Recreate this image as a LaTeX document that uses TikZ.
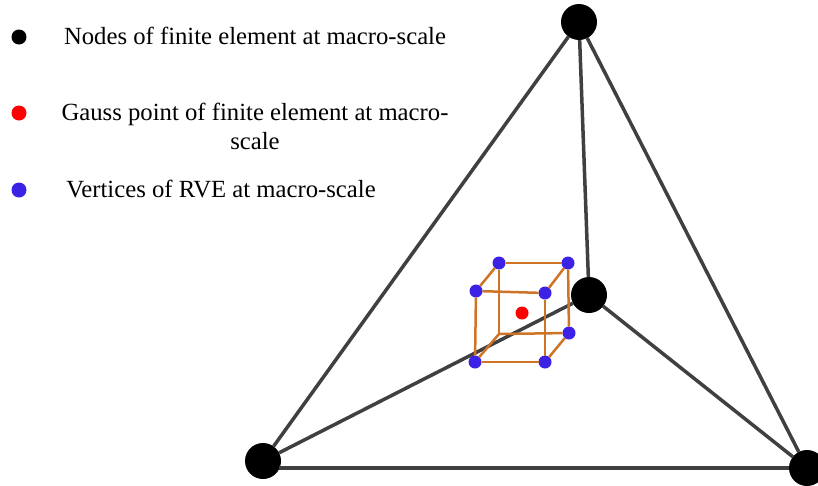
\documentclass[tikz,border=0pt]{standalone}
\usepackage{fontspec}
\setmainfont{Liberation Serif}
\usepackage{xcolor}
\definecolor{edgegray}{HTML}{404040}
\definecolor{rveorange}{HTML}{CF7426}
\definecolor{rveblue}{HTML}{3B22E4}
\tikzstyle{vertex}  = [circle, fill=black, minimum size=36pt, inner sep=0pt, outer sep=0pt]
\tikzstyle{rvevert} = [circle, fill=rveblue, minimum size=13pt, inner sep=0pt, outer sep=0pt]
\tikzstyle{gauss}   = [circle, fill=red, minimum size=13pt, inner sep=0pt, outer sep=0pt]
\tikzstyle{legdot}  = [circle, minimum size=15pt, inner sep=0pt, outer sep=0pt]
\tikzstyle{legtext} = [inner sep=0pt, align=center, font=\fontsize{24.7}{29}\selectfont]
\tikzstyle{edge}    = [line width=3.5pt, edgegray]
\tikzstyle{rve}     = [line width=2.5pt, rveorange]
\begin{document}
\begin{tikzpicture}[x=1pt,y=-1pt]
\useasboundingbox (0,0) rectangle (818,485);

\node[vertex] (V1) at (579,22) {};
\node[vertex] (V2) at (589,295) {};
\node[vertex] (V3) at (263,461) {};
\node[vertex] (V4) at (807,468) {};
\coordinate (VB) at (279,468);

\draw[edge] (V1) -- (V3);
\draw[edge] (VB) -- (V4);
\draw[edge] (V4) -- (V1);
\draw[edge] (V1) -- (V2);
\draw[edge] (V2) -- (V3);
\draw[edge] (V2) -- (V4);

\node[rvevert] (P1) at (499,263) {};
\node[rvevert] (P2) at (568,263) {};
\node[rvevert] (P3) at (476,291) {};
\node[rvevert] (P4) at (545,293) {};
\node[rvevert] (P5) at (569,333) {};
\node[rvevert] (P6) at (475,362) {};
\node[rvevert] (P7) at (545,362) {};
\coordinate (P8) at (499,334);
\node[gauss] (G1) at (522,313) {};

\draw[rve] (P1) -- (P2);
\draw[rve] (P3) -- (P4);
\draw[rve] (P6) -- (P7);
\draw[rve] (P8) -- (P5);
\draw[rve] (P3) -- (P6);
\draw[rve] (P4) -- (P7);
\draw[rve] (P1) -- (P8);
\draw[rve] (P2) -- (P5);
\draw[rve] (P1) -- (P3);
\draw[rve] (P2) -- (P4);
\draw[rve] (P8) -- (P6);
\draw[rve] (P5) -- (P7);

\node[legdot,fill=black]  (L1) at (19,37) {};
\node[legdot,fill=red]    (L2) at (19,113) {};
\node[legdot,fill=rveblue] (L3) at (19,190) {};

\node[legtext] (T1) at (255,36) {Nodes of finite element at macro-scale};
\node[legtext] (T2) at (255,126) {Gauss point of finite element at macro-\\scale};
\node[legtext] (T3) at (221,189) {Vertices of RVE at macro-scale};

\end{tikzpicture}
\end{document}
